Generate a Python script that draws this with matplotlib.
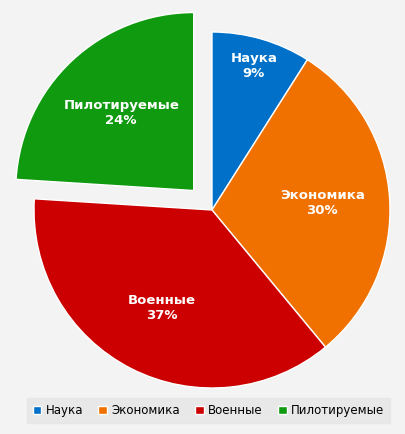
import matplotlib.pyplot as plt

categories = ["Наука", "Экономика", "Военные", "Пилотируемые"]
shares = [9, 30, 37, 24]
colors = ["#0070C8", "#F07000", "#CC0000", "#109A10"]
explode = [0, 0, 0, 0.15]

plt.rcParams['font.family'] = ['DejaVu Sans']
fig = plt.figure(figsize=(4.05, 4.34), dpi=100)
fig.patch.set_facecolor("#f3f3f3")
ax = fig.add_axes([0, 0, 1, 1])
ax.set_facecolor("#f3f3f3")

wedges, texts, autotexts = ax.pie(
    shares, colors=colors, explode=explode, startangle=90, counterclock=False,
    autopct=lambda p: "", pctdistance=0.62,
    wedgeprops=dict(edgecolor="white", linewidth=1))
dists = [0.84, 0.62, 0.62, 0.6]
for t, name, val, d in zip(autotexts, categories, shares, dists):
    x, y = t.get_position()
    x, y = x / 0.62 * d, y / 0.62 * d
    t.set_position((x, y))
    t.set_text(f"{name}\n{val}%")
    t.set_color("white")
    t.set_fontweight("bold")
    t.set_fontsize(9.5)
    t.set_ha("center")
# pie centre at (212, 210) px with radius ~178 px
ax.set_aspect("auto")
ax.set_xlim(-212 / 178, (405 - 212) / 178)
ax.set_ylim(-224 / 178, 210 / 178)
ax.axis("off")

leg = fig.legend(wedges, categories, loc="lower center", ncol=4, fontsize=8.5,
                 bbox_to_anchor=(0.515, 0.012), frameon=True, handlelength=0.7,
                 handleheight=0.7, columnspacing=1.3, handletextpad=0.4,
                 fancybox=False, borderpad=0.5)
leg.get_frame().set_facecolor("#e6e6e6")
leg.get_frame().set_edgecolor("#e6e6e6")

fig.savefig("out.png", dpi=100, facecolor=fig.get_facecolor())
